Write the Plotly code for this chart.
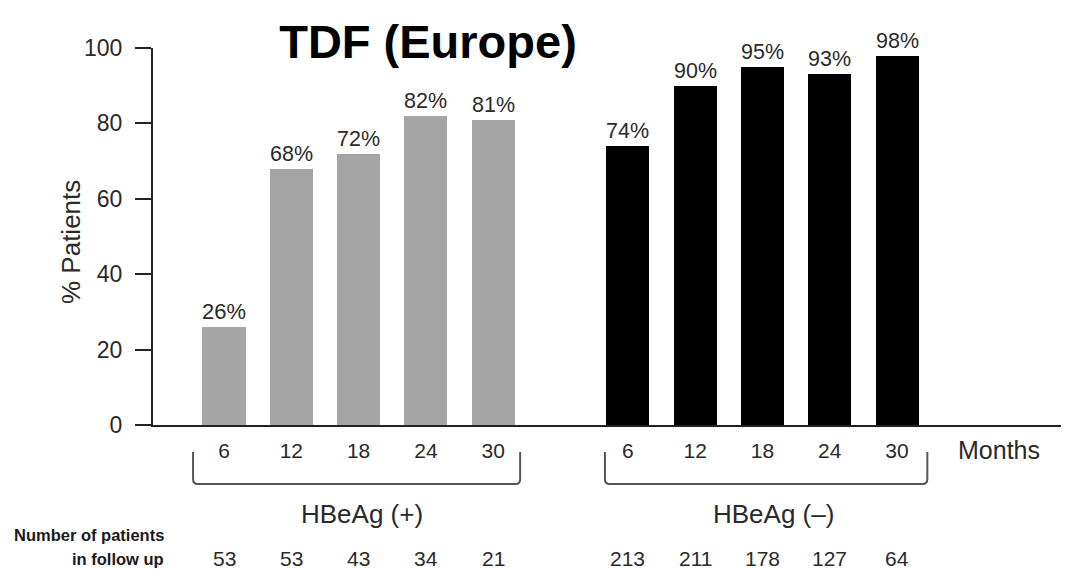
import plotly.graph_objects as go

months = ["6", "12", "18", "24", "30"]
pos_values = [26, 68, 72, 82, 81]
neg_values = [74, 90, 95, 93, 98]
pos_labels = ["26%", "68%", "72%", "82%", "81%"]
neg_labels = ["74%", "90%", "95%", "93%", "98%"]
pos_n = ["53", "53", "43", "34", "21"]
neg_n = ["213", "211", "178", "127", "64"]

pos_x = [0, 1, 2, 3, 4]
neg_x = [6, 7, 8, 9, 10]

# the page body has an 8px margin, so the figure is 8px smaller
OFF = 8
W, H = 1069 - OFF, 570 - OFF
PL, PT, PB = 153, 48, 425            # plot box edges in page pixels
L, R, T = PL - OFF, 0, PT - OFF
B = H - (PB - OFF)
TXT = "#2a2a2a"
FONT = "Liberation Sans, Arial, sans-serif"

fig = go.Figure()
fig.add_trace(go.Bar(x=pos_x, y=pos_values, text=pos_labels, textposition="outside",
                     marker=dict(color="#a5a5a5", line=dict(width=0)), width=0.64,
                     textfont=dict(size=22, color=TXT, family=FONT), cliponaxis=False,
                     showlegend=False))
fig.add_trace(go.Bar(x=neg_x, y=neg_values, text=neg_labels, textposition="outside",
                     marker=dict(color="#000000", line=dict(width=0)), width=0.64,
                     textfont=dict(size=22, color=TXT, family=FONT), cliponaxis=False,
                     showlegend=False))

def py(p):
    return (PB - p) / (PB - PT)

def px(p):
    return (p - PL) / (1069 - PL)

ann = []
for xs, ns in ((pos_x, pos_n), (neg_x, neg_n)):
    for xv, n in zip(xs, ns):
        ann.append(dict(x=xv, y=py(558), xref="x", yref="paper", text=n, showarrow=False,
                        font=dict(size=21, color=TXT, family=FONT), xanchor="center", yanchor="middle"))
for txt, yy in (("Number of patients", 535), ("in follow up", 559)):
    ann.append(dict(x=px(166), y=py(yy), xref="paper", yref="paper", text=f"<b>{txt}</b>",
                    showarrow=False, xanchor="right", yanchor="middle",
                    font=dict(size=16.5, color="#1a1a1a", family=FONT)))
ann.append(dict(x=2.05, y=py(514), xref="x", yref="paper", text="HBeAg (+)", showarrow=False,
                xanchor="center", yanchor="middle", font=dict(size=26, color=TXT, family=FONT)))
ann.append(dict(x=8.16, y=py(514), xref="x", yref="paper", text="HBeAg (\u2013)", showarrow=False,
                xanchor="center", yanchor="middle", font=dict(size=26, color=TXT, family=FONT)))
ann.append(dict(x=px(999), y=py(450), xref="paper", yref="paper", text="Months", showarrow=False,
                xanchor="center", yanchor="middle", font=dict(size=25, color=TXT, family=FONT)))
ann.append(dict(x=px(71), y=py(242), xref="paper", yref="paper", text="% Patients", showarrow=False,
                xanchor="center", yanchor="middle", textangle=-90,
                font=dict(size=26, color=TXT, family=FONT)))

shapes = []
rx, ry = 0.07, 5 / (PB - PT)
for x0, x1 in ((-0.46, 4.40), (5.66, 10.45)):
    y0, y1 = py(452), py(484)
    path = (f"M {x0} {y0} L {x0} {y1 + ry} Q {x0} {y1} {x0 + rx} {y1} "
            f"L {x1 - rx} {y1} Q {x1} {y1} {x1} {y1 + ry} L {x1} {y0}")
    shapes.append(dict(type="path", xref="x", yref="paper", path=path,
                       line=dict(color="#555555", width=2)))

fig.update_layout(
    width=W, height=H,
    margin=dict(l=L, r=R, t=T, b=B, autoexpand=False),
    plot_bgcolor="white", paper_bgcolor="white",
    title=dict(text="<b>TDF (Europe)</b>", x=(428 - OFF) / W, xref="container", xanchor="center",
               y=1 - (42 - OFF) / H, yref="container", yanchor="middle",
               font=dict(size=47, color="#000000", family=FONT)),
    xaxis=dict(range=[-1.055, 12.555], tickvals=pos_x + neg_x, ticktext=months + months,
               showline=True, linecolor="#222222", linewidth=2, ticks="", showgrid=False,
               zeroline=False, ticklabelstandoff=6,
               tickfont=dict(size=21, color=TXT, family=FONT)),
    yaxis=dict(range=[0, 100], tickvals=[0, 20, 40, 60, 80, 100], showline=True,
               linecolor="#222222", linewidth=2, ticks="outside", ticklen=16, tickwidth=2,
               tickcolor="#222222", showgrid=False, zeroline=False, ticklabelstandoff=8,
               tickfont=dict(size=23, color=TXT, family=FONT)),
    annotations=ann, shapes=shapes, bargap=0,
)
fig.write_html("out.html")
